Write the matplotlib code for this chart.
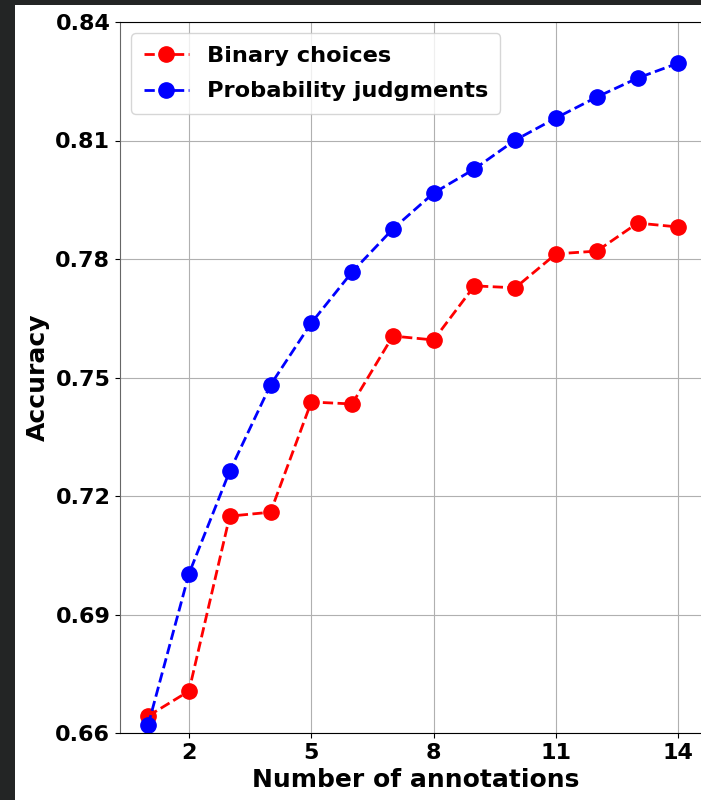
import numpy as np
import matplotlib.pyplot as plt
from matplotlib.patches import Rectangle

# data
num_annotations = [1, 2, 3, 4, 5, 6, 7, 8, 9, 10, 11, 12, 13, 14]
binary_acc = [0.6643, 0.6706, 0.7149, 0.7159, 0.7438, 0.7433, 0.7605,
              0.7595, 0.7732, 0.7727, 0.7813, 0.7820, 0.7891, 0.7881]
prob_acc = [0.6620, 0.7003, 0.7263, 0.7481, 0.7638, 0.7767, 0.7876,
            0.7967, 0.8028, 0.8101, 0.8157, 0.8210, 0.8258, 0.8296]
x_ticks = [2, 5, 8, 11, 14]
y_ticks = [0.66, 0.69, 0.72, 0.75, 0.78, 0.81, 0.84]

fig = plt.figure(figsize=(7.01, 8.0), dpi=100)
fig.patch.set_facecolor('#232525')
# white page area (screenshot has dark border left and top)
fig.patches.append(Rectangle((15 / 701, 0), 1, 795 / 800, transform=fig.transFigure,
                             facecolor='white', edgecolor='none', zorder=-10))

# axes runs past the right edge of the picture (cropped screenshot)
ax = fig.add_axes([120 / 701, 67 / 800, 591 / 701, 711 / 800])

ax.plot(num_annotations, binary_acc, color='red', linestyle='--', marker='o',
        markersize=11, linewidth=2, label='Binary choices')
ax.plot(num_annotations, prob_acc, color='blue', linestyle='--', marker='o',
        markersize=11, linewidth=2, label='Probability judgments')

ax.set_xlim(0.31, 14.8)
ax.set_ylim(0.66, 0.84)
ax.set_xticks(x_ticks)
ax.set_yticks(y_ticks)
ax.set_yticklabels([f'{v:.2f}' for v in y_ticks])
ax.tick_params(labelsize=16)
for lab in ax.get_xticklabels() + ax.get_yticklabels():
    lab.set_fontweight('bold')
ax.spines['left'].set_color('#666666')
ax.spines['right'].set_visible(False)

ax.set_xlabel('Number of annotations', fontsize=18, fontweight='bold')
ax.set_ylabel('Accuracy', fontsize=18, fontweight='bold')
ax.grid(True)
ax.legend(loc='upper left', prop={'size': 16.2, 'weight': 'bold'},
          labelspacing=0.7, borderpad=0.55)

fig.savefig('out.png', dpi=100, facecolor=fig.get_facecolor())
